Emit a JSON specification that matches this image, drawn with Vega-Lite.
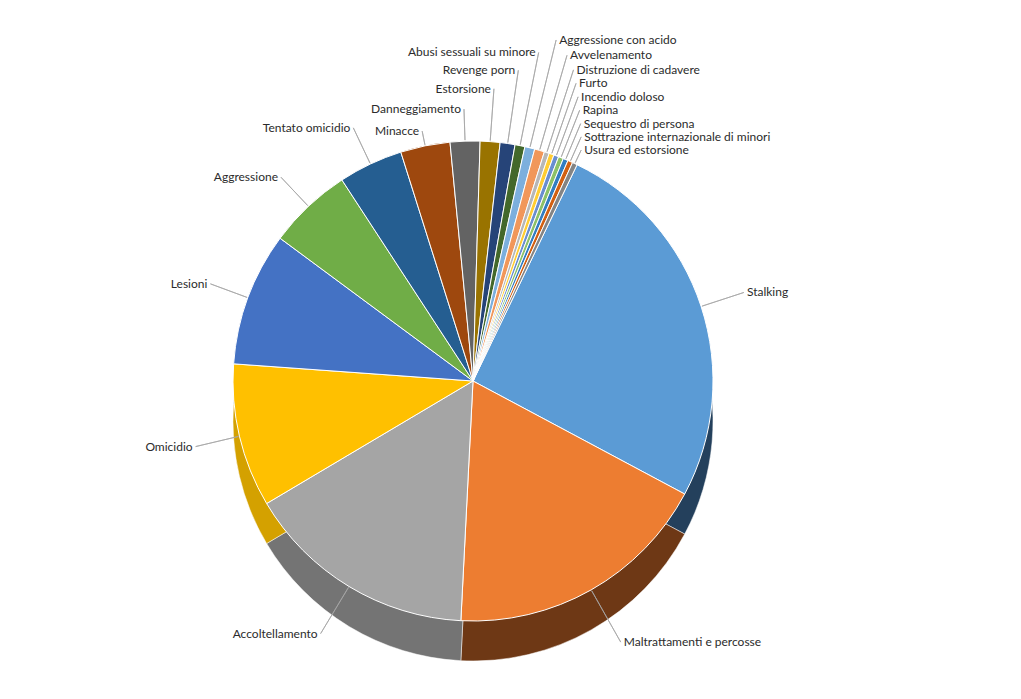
{
  "$schema": "https://vega.github.io/schema/vega-lite/v6.json",
  "width": 1021,
  "height": 699,
  "autosize": {"type": "fit", "contains": "padding"},
  "padding": {"left": 0, "right": 75, "top": 63, "bottom": 0},
  "background": "white",
  "config": {"view": {"stroke": null}},
  "data": {
    "values": [
      {"label": "Stalking", "value": 77, "rank": 1},
      {"label": "Maltrattamenti e percosse", "value": 54, "rank": 2},
      {"label": "Accoltellamento", "value": 47, "rank": 3},
      {"label": "Omicidio", "value": 29, "rank": 4},
      {"label": "Lesioni", "value": 27, "rank": 5},
      {"label": "Aggressione", "value": 17, "rank": 6},
      {"label": "Tentato omicidio", "value": 13, "rank": 7},
      {"label": "Minacce", "value": 10, "rank": 8},
      {"label": "Danneggiamento", "value": 6, "rank": 9},
      {"label": "Estorsione", "value": 4, "rank": 10},
      {"label": "Revenge porn", "value": 3, "rank": 11},
      {"label": "Abusi sessuali su minore", "value": 2, "rank": 12},
      {"label": "Aggressione con acido", "value": 2, "rank": 13},
      {"label": "Avvelenamento", "value": 2, "rank": 14},
      {"label": "Distruzione di cadavere", "value": 1, "rank": 15},
      {"label": "Furto", "value": 1, "rank": 16},
      {"label": "Incendio doloso", "value": 1, "rank": 17},
      {"label": "Rapina", "value": 1, "rank": 18},
      {"label": "Sequestro di persona", "value": 1, "rank": 19},
      {"label": "Sottrazione internazionale di minori", "value": 1, "rank": 20},
      {"label": "Usura ed estorsione", "value": 1, "rank": 21}
    ]
  },
  "resolve": {"scale": {"color": "independent"}},
  "layer": [
    {
      "mark": {"type": "arc", "radius": 240, "yOffset": 40, "stroke": "#ffffff", "strokeWidth": 0.5},
      "encoding": {
        "theta": {"field": "value", "type": "quantitative", "stack": true, "scale": {"range": [0.44855, 6.73174]}},
        "order": {"field": "rank", "type": "quantitative"},
        "color": {
          "field": "label", "type": "nominal", "legend": null,
          "scale": {
            "domain": ["Stalking", "Maltrattamenti e percosse", "Accoltellamento", "Omicidio", "Lesioni", "Aggressione", "Tentato omicidio", "Minacce", "Danneggiamento", "Estorsione", "Revenge porn", "Abusi sessuali su minore", "Aggressione con acido", "Avvelenamento", "Distruzione di cadavere", "Furto", "Incendio doloso", "Rapina", "Sequestro di persona", "Sottrazione internazionale di minori", "Usura ed estorsione"],
            "range": ["#24405C", "#6E3815", "#747474", "#D4A100", "#2B4A80", "#4A7430", "#173C5E", "#652E09", "#404040", "#634A00", "#182B4D", "#2B431C", "#50718F", "#9C623A", "#777777", "#A68521", "#445C87", "#5B7D44", "#20517E", "#883E0C", "#565656"]
          }
        }
      }
    },
    {
      "mark": {"type": "arc", "radius": 240, "stroke": "#ffffff", "strokeWidth": 1},
      "encoding": {
        "theta": {"field": "value", "type": "quantitative", "stack": true, "scale": {"range": [0.44855, 6.73174]}},
        "order": {"field": "rank", "type": "quantitative"},
        "color": {
          "field": "label", "type": "nominal", "legend": null,
          "scale": {
            "domain": ["Stalking", "Maltrattamenti e percosse", "Accoltellamento", "Omicidio", "Lesioni", "Aggressione", "Tentato omicidio", "Minacce", "Danneggiamento", "Estorsione", "Revenge porn", "Abusi sessuali su minore", "Aggressione con acido", "Avvelenamento", "Distruzione di cadavere", "Furto", "Incendio doloso", "Rapina", "Sequestro di persona", "Sottrazione internazionale di minori", "Usura ed estorsione"],
            "range": ["#5B9BD5", "#ED7D31", "#A5A5A5", "#FFC000", "#4472C4", "#70AD47", "#255E91", "#9E480E", "#636363", "#997300", "#264478", "#43682B", "#7CAFDD", "#F1975A", "#B7B7B7", "#FFCD33", "#698ED0", "#8CC168", "#327DC2", "#D26012", "#848484"]
          }
        }
      }
    },
    {
      "transform": [
        {"stack": "value", "groupby": [], "sort": [{"field": "rank", "order": "ascending"}], "as": ["v0", "v1"]},
        {"fold": ["v0", "v1"], "as": ["edgeName", "edge"]},
        {"aggregate": [{"op": "mean", "field": "edge", "as": "mid"}], "groupby": ["label", "rank"]}
      ],
      "layer": [
        {
          "mark": {"type": "arc", "stroke": "#A6A6A6", "strokeWidth": 0.8, "fillOpacity": 0},
          "encoding": {
            "theta": {"field": "mid", "type": "quantitative", "stack": null, "scale": {"range": [0.44855, 6.73174]}},
            "theta2": {"field": "mid"},
            "radius": {"field": "rank", "type": "quantitative", "scale": {"type": "linear", "zero": false, "domain": [1, 2, 3, 4, 5, 7, 8, 9, 12, 13, 21], "range": [285, 300, 295, 285, 280, 280, 255, 272, 335, 351, 255]}},
            "radius2": {"value": 241}
          }
        },
        {
          "transform": [{"filter": "datum.rank <= 2 || datum.rank >= 13"}],
          "mark": {"type": "text", "align": "left", "baseline": "middle", "dx": 3, "font": "Lato", "fontSize": 12, "fill": "#2b2b2b"},
          "encoding": {
            "theta": {"field": "mid", "type": "quantitative", "stack": null, "scale": {"range": [0.44855, 6.73174]}},
            "radius": {"field": "rank", "type": "quantitative", "scale": {"type": "linear", "zero": false, "domain": [1, 2, 3, 4, 5, 7, 8, 9, 12, 13, 21], "range": [285, 300, 295, 285, 280, 280, 255, 272, 335, 351, 255]}},
            "text": {"field": "label"}
          }
        },
        {
          "transform": [{"filter": "datum.rank >= 3 && datum.rank <= 12"}],
          "mark": {"type": "text", "align": "right", "baseline": "middle", "dx": -3, "font": "Lato", "fontSize": 12, "fill": "#2b2b2b"},
          "encoding": {
            "theta": {"field": "mid", "type": "quantitative", "stack": null, "scale": {"range": [0.44855, 6.73174]}},
            "radius": {"field": "rank", "type": "quantitative", "scale": {"type": "linear", "zero": false, "domain": [1, 2, 3, 4, 5, 7, 8, 9, 12, 13, 21], "range": [285, 300, 295, 285, 280, 280, 255, 272, 335, 351, 255]}},
            "text": {"field": "label"}
          }
        }
      ]
    }
  ]
}
